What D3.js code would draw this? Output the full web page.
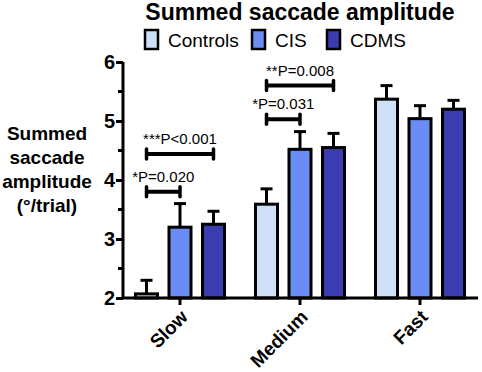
<!DOCTYPE html>
<html>
<head>
<meta charset="utf-8">
<script src="https://cdn.jsdelivr.net/npm/d3@7"></script>
<style>
  body { margin: 0; background: #fff; }
  svg { display: block; font-family: "Liberation Sans", Arial, sans-serif; }
</style>
</head>
<body>
<div id="chart"></div>
<script>
const speeds = ["Slow", "Medium", "Fast"];
const groups = ["Controls", "CIS", "CDMS"];
const colors = ["#cde0f7", "#6b8cf2", "#3b3cb0"];
// mean and top of error bar, per speed, per group
const means = [
  [2.07, 3.2, 3.25],
  [3.59, 4.52, 4.55],
  [5.37, 5.04, 5.2]
];
const errTops = [
  [2.3, 3.6, 3.47],
  [3.85, 4.82, 4.79],
  [5.6, 5.26, 5.35]
];
const yTicks = [2, 3, 4, 5, 6];
// significance brackets: speed, from group, to group, level, label
const sigs = [
  { speed: "Slow", from: 0, to: 1, y: 3.8, label: "*P=0.020" },
  { speed: "Slow", from: 0, to: 2, y: 4.44, label: "***P<0.001" },
  { speed: "Medium", from: 0, to: 1, y: 5.03, label: "*P=0.031" },
  { speed: "Medium", from: 0, to: 2, y: 5.6, label: "**P=0.008" }
];

const width = 482, height = 372;
const margin = { top: 62, right: 4, bottom: 74, left: 123 };

const svg = d3.select("#chart").append("svg")
  .attr("width", width).attr("height", height);

const x = d3.scaleBand().domain(speeds).range([120, 480]);
const xg = d3.scaleBand().domain(groups)
  .range([0, x.bandwidth()]).paddingInner(0.343).paddingOuter(0.463);

const y = d3.scaleLinear().domain([2, 6])
  .range([height - margin.bottom, margin.top]);

const cx = (s, gi) => x(s) + xg(groups[gi]) + xg.bandwidth() / 2;

// bars
speeds.forEach((s, si) => {
  const g = svg.append("g");
  groups.forEach((grp, gi) => {
    const bx = x(s) + xg(grp);
    const mid = bx + xg.bandwidth() / 2;
    g.append("line")
      .attr("x1", mid).attr("x2", mid)
      .attr("y1", y(means[si][gi])).attr("y2", y(errTops[si][gi]))
      .attr("stroke", "#000").attr("stroke-width", 3);
    g.append("line")
      .attr("x1", mid - 6).attr("x2", mid + 6)
      .attr("y1", y(errTops[si][gi])).attr("y2", y(errTops[si][gi]))
      .attr("stroke", "#000").attr("stroke-width", 3);
    g.append("rect")
      .attr("x", bx).attr("width", xg.bandwidth())
      .attr("y", y(means[si][gi]))
      .attr("height", y(2) - y(means[si][gi]))
      .attr("fill", colors[gi])
      .attr("stroke", "#000").attr("stroke-width", 3);
  });
});

// y axis
const yAxis = svg.append("g")
  .attr("transform", `translate(${margin.left},0)`)
  .call(d3.axisLeft(y).tickValues(yTicks).tickFormat(d3.format("d")).tickSize(7).tickPadding(1));
yAxis.select(".domain").attr("stroke-width", 3).attr("d", `M0,${y(6)}V${y(2)}`);
yAxis.selectAll(".tick line").attr("stroke-width", 3);
yAxis.selectAll(".tick text")
  .attr("font-size", 20).attr("font-weight", "bold").attr("fill", "#000")
  .attr("font-family", "Liberation Sans, Arial, sans-serif");
yAxis.selectAll(".minor").data([2.5, 3.5, 4.5, 5.5]).enter()
  .append("line").attr("class", "minor")
  .attr("x1", -5).attr("x2", 0)
  .attr("y1", d => y(d)).attr("y2", d => y(d))
  .attr("stroke", "#000").attr("stroke-width", 3);

// x axis
const xAxis = svg.append("g")
  .attr("transform", `translate(0,${y(2)})`)
  .call(d3.axisBottom(x).tickSize(7).tickFormat(""));
xAxis.select(".domain").attr("stroke-width", 3).attr("d", `M${margin.left},0H478`);
xAxis.selectAll(".tick line").attr("stroke-width", 3);
xAxis.selectAll(".tick").append("text")
  .text(d => d)
  .attr("transform", "translate(9,20) rotate(-45)")
  .attr("text-anchor", "end")
  .attr("fill", "#000")
  .attr("font-size", 19).attr("font-weight", "bold");

// significance brackets
sigs.forEach(d => {
  const x1 = cx(d.speed, d.from), x2 = cx(d.speed, d.to), yy = y(d.y);
  const g = svg.append("g");
  g.append("line").attr("x1", x1).attr("x2", x2).attr("y1", yy).attr("y2", yy)
    .attr("stroke", "#000").attr("stroke-width", 4);
  [x1, x2].forEach(xe => g.append("line")
    .attr("x1", xe).attr("x2", xe).attr("y1", yy - 5).attr("y2", yy + 5)
    .attr("stroke", "#000").attr("stroke-width", 3.5).attr("stroke-linecap", "round"));
  g.append("text")
    .attr("x", (x1 + x2) / 2).attr("y", yy - 10)
    .attr("text-anchor", "middle").attr("font-size", 15)
    .text(d.label);
});

// y label
const yl = svg.append("text")
  .attr("text-anchor", "middle").attr("font-size", 19).attr("font-weight", "bold");
["Summed", "saccade", "amplitude", "(°/trial)"].forEach((t, i) =>
  yl.append("tspan").attr("x", 47).attr("y", 140 + i * 24).text(t));

// title
svg.append("text")
  .attr("x", 300).attr("y", 20)
  .attr("text-anchor", "middle").attr("font-size", 23).attr("font-weight", "bold")
  .text("Summed saccade amplitude");

// legend
const legX = [145, 252, 327];
groups.forEach((grp, gi) => {
  svg.append("rect")
    .attr("x", legX[gi]).attr("y", 30).attr("width", 13).attr("height", 19)
    .attr("fill", colors[gi]).attr("stroke", "#000").attr("stroke-width", 2.5);
  svg.append("text")
    .attr("x", legX[gi] + 23).attr("y", 47)
    .attr("font-size", 19)
    .text(grp);
});
</script>
</body>
</html>
